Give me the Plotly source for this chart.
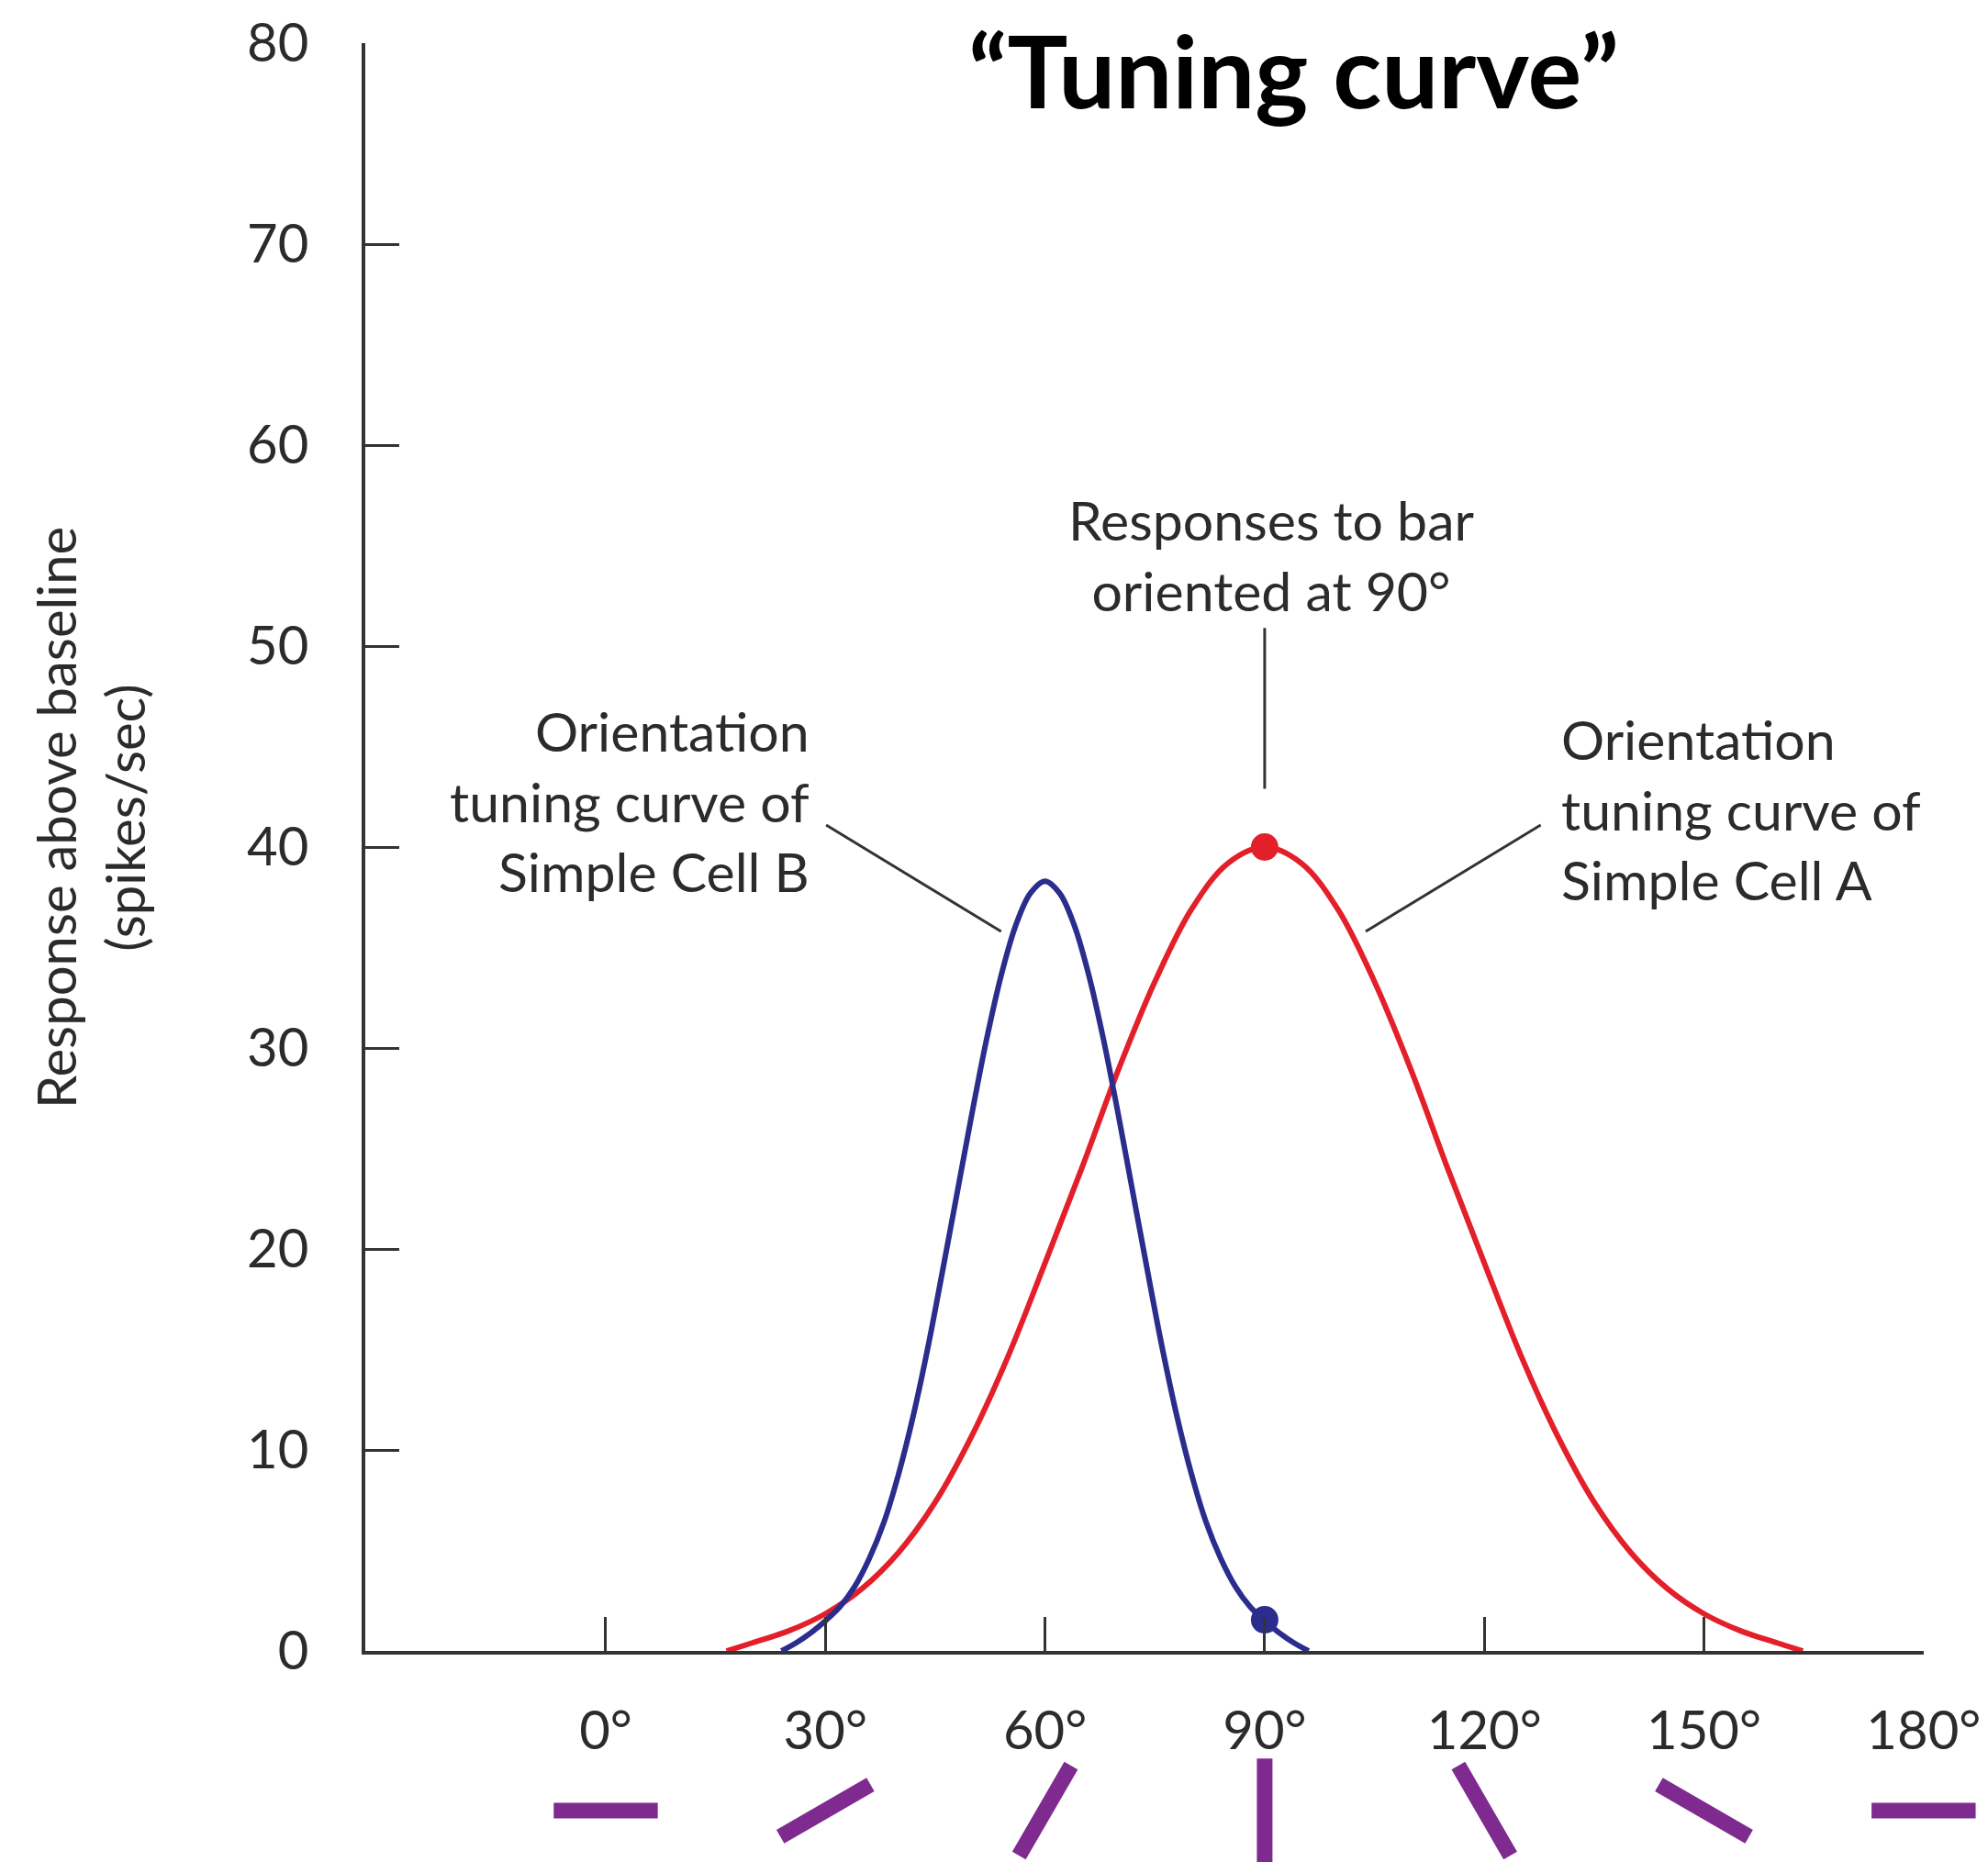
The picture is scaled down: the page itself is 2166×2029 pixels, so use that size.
import plotly.graph_objects as go

# ---------------- data ----------------
orientations = [0, 30, 60, 90, 120, 150, 180]          # stimulus bar orientations (deg)
orientation_labels = ["0°", "30°", "60°", "90°", "120°", "150°", "180°"]
y_ticks = [0, 10, 20, 30, 40, 50, 60, 70, 80]

# Simple Cell A (red) tuning curve
cellA_x = [16.5, 20, 25, 30, 35, 40, 45, 50, 55, 60, 65, 70, 75, 80, 85, 90,
           95, 100, 105, 110, 115, 120, 125, 130, 135, 140, 145, 150, 155, 160, 163.5]
cellA_y = [0, 0.4, 1.0, 1.85, 3.1, 4.9, 7.4, 10.7, 14.7, 19.3, 24.0, 28.9, 33.3, 36.9, 39.2, 40.0,
           39.2, 36.9, 33.3, 28.9, 24.0, 19.3, 14.7, 10.7, 7.4, 4.9, 3.1, 1.85, 1.0, 0.4, 0]

# Simple Cell B (blue) tuning curve
cellB_x = [24, 26, 28, 30, 32, 34, 36, 38, 40, 42, 44, 46, 48, 50, 52, 54, 56, 58, 60,
           62, 64, 66, 68, 70, 72, 74, 76, 78, 80, 82, 84, 86, 88, 90, 92, 94, 96]
cellB_y = [0, 0.4, 0.9, 1.5, 2.2, 3.2, 4.6, 6.4, 8.8, 11.7, 15.1, 18.9, 22.8, 26.7, 30.4, 33.6,
           36.1, 37.7, 38.3,
           37.7, 36.1, 33.6, 30.4, 26.7, 22.8, 18.9, 15.1, 11.7, 8.8, 6.4, 4.6, 3.2, 2.2, 1.5,
           0.9, 0.4, 0]

probe_angle = 90
probe_A = 40.0
probe_B = 1.55

# ---------------- style / layout constants ----------------
W, H = 2158, 2021            # page body adds an 8px margin
ML, MR, MT, MB = 390, 70, 39, 0
X_RANGE = [-32.84, 180.02]
Y_RANGE = [0, 80]
MAIN_DOMAIN = [0.11604, 1.0]
BAR_DOMAIN = [0.0, 0.1]
BAR_Y = 0.2825               # pictogram row position inside the lower strip
FONT = "Lato"
TXT = "#2b2b2b"
AXC = "#333333"
RED = "#e3202a"
BLUE = "#2b2d8c"
PURPLE = "#7e2a8f"

fig = go.Figure()

fig.add_trace(go.Scatter(x=cellA_x, y=cellA_y, mode="lines",
                         line=dict(color=RED, width=6, shape="spline", smoothing=1.0),
                         cliponaxis=False, hoverinfo="skip"))
fig.add_trace(go.Scatter(x=cellB_x, y=cellB_y, mode="lines",
                         line=dict(color=BLUE, width=6, shape="spline", smoothing=1.0),
                         cliponaxis=False, hoverinfo="skip"))
fig.add_trace(go.Scatter(x=[probe_angle], y=[probe_A], mode="markers",
                         marker=dict(color=RED, size=30, line=dict(width=0)),
                         cliponaxis=False, hoverinfo="skip"))
fig.add_trace(go.Scatter(x=[probe_angle], y=[probe_B], mode="markers",
                         marker=dict(color=BLUE, size=30, line=dict(width=0)),
                         cliponaxis=False, hoverinfo="skip"))

# orientation pictograms under the tick labels (own strip below the axis)
fig.add_trace(go.Scatter(
    x=orientations, y=[BAR_Y] * len(orientations), mode="markers",
    xaxis="x", yaxis="y2",
    marker=dict(symbol="line-ew", size=81, angle=[-o for o in orientations],
                color=PURPLE, line=dict(color=PURPLE, width=17)),
    cliponaxis=False, hoverinfo="skip"))

fig.update_layout(
    width=W, height=H,
    margin=dict(l=ML, r=MR, t=MT, b=MB, autoexpand=False),
    paper_bgcolor="white", plot_bgcolor="white",
    showlegend=False,
    font=dict(family=FONT, color=TXT),
    xaxis=dict(
        range=X_RANGE, anchor="y", automargin=False, showgrid=False, zeroline=False,
        showline=True, linecolor=AXC, linewidth=4,
        ticks="inside", ticklen=37, tickwidth=3, tickcolor=AXC,
        tickmode="array", tickvals=orientations, ticktext=orientation_labels,
        tickfont=dict(family=FONT, size=58, color=TXT),
        ticklabelstandoff=33,
    ),
    yaxis=dict(
        range=Y_RANGE, domain=MAIN_DOMAIN, anchor="x", automargin=False,
        showgrid=False, zeroline=False,
        showline=True, linecolor=AXC, linewidth=4,
        ticks="inside", ticklen=37, tickwidth=3, tickcolor=AXC,
        tickmode="array", tickvals=y_ticks,
        tickfont=dict(family=FONT, size=58, color=TXT),
        ticklabelstandoff=46,
    ),
    yaxis2=dict(range=[0, 1], domain=BAR_DOMAIN, anchor="x", visible=False,
                automargin=False, fixedrange=True),
)

ann_font = dict(family=FONT, size=59, color=TXT)

# Title
fig.add_annotation(text="“Tuning curve”", xref="x", yref="y", x=94.0, y=78.72,
                   xanchor="center", yanchor="middle", showarrow=False,
                   font=dict(family=FONT, size=110, color="#000000", weight="bold"))

# Y-axis title
fig.add_annotation(text="Response above baseline<br>(spikes/sec)", textangle=-90,
                   xref="paper", yref="y", x=-0.1767, y=41.46,
                   xanchor="center", yanchor="middle", showarrow=False,
                   font=dict(family=FONT, size=58, color=TXT))

# Callouts
fig.add_annotation(text="Responses to bar<br>oriented at 90°", xref="x", yref="y",
                   x=90.9, y=54.5, xanchor="center", yanchor="middle", align="center",
                   showarrow=False, font=ann_font)
fig.add_annotation(text="Orientation<br>tuning curve of<br>Simple Cell B", xref="x", yref="y",
                   x=28.1, y=42.3, xanchor="right", yanchor="middle", align="right",
                   showarrow=False, font=ann_font)
fig.add_annotation(text="Orientation<br>tuning curve of<br>Simple Cell A", xref="x", yref="y",
                   x=130.25, y=41.85, xanchor="left", yanchor="middle", align="left",
                   showarrow=False, font=ann_font)

# leader lines
leader = dict(color=AXC, width=3)
fig.add_shape(type="line", xref="x", yref="y", x0=90, y0=50.9, x1=90, y1=42.9, line=leader)
fig.add_shape(type="line", xref="x", yref="y", x0=30.1, y0=41.1, x1=54.0, y1=35.8, line=leader)
fig.add_shape(type="line", xref="x", yref="y", x0=103.8, y0=35.8, x1=127.7, y1=41.1, line=leader)

fig.write_html("out.html")
